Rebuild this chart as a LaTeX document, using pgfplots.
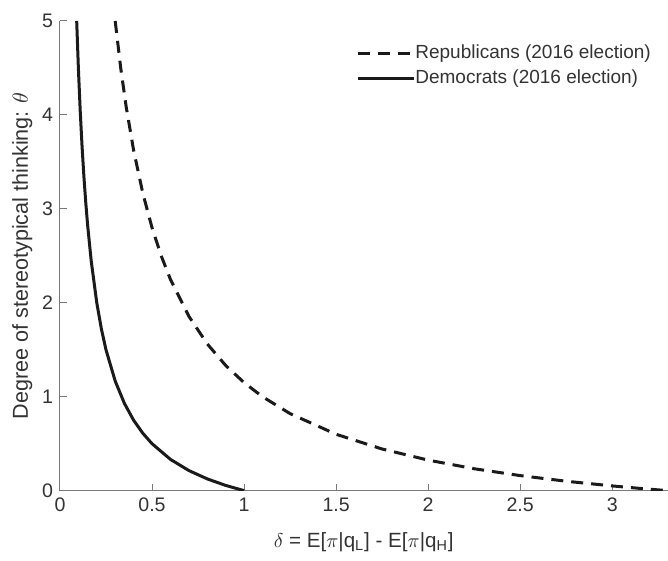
\documentclass[border=0pt]{standalone}
\usepackage{fontspec}
\setmainfont{Liberation Sans}
\usepackage{pgfplots}
\pgfplotsset{compat=1.18}
\definecolor{axgray}{HTML}{7A7A7A}
\definecolor{txt}{HTML}{333333}
\definecolor{crv}{HTML}{1A1A1A}
\begin{document}
\begin{tikzpicture}
\begin{axis}[
  name=ax,
  scale only axis,
  width=304pt, height=235pt,
  xmin=0, xmax=3.3, ymin=0, ymax=5,
  axis x line*=bottom, axis y line*=left,
  axis line style={-, axgray, line width=0.5pt},
  tick style={axgray, line width=0.5pt},
  tick align=inside,
  major tick length=3.5pt,
  xtick={0,0.5,1,1.5,2,2.5,3},
  ytick={0,1,2,3,4,5},
  /pgf/number format/assume math mode=true,
  ticklabel style={font=\fontsize{9.8}{12}\selectfont, text=txt},
  xlabel={$\delta$ = E[$\pi$|q\textsubscript{L}] - E[$\pi$|q\textsubscript{H}]},
  ylabel={Degree of stereotypical thinking: $\theta$},
  every axis x label/.style={at={(axis description cs:0.5,0)}, anchor=base, yshift=-28.6pt,
    font=\fontsize{10.3}{12}\selectfont, text=txt},
  every axis y label/.style={at={(axis description cs:-0.0526,0.5)}, anchor=base, rotate=90,
    font=\fontsize{10.8}{12}\selectfont, text=txt},
  legend style={draw=none, fill=none, inner sep=0pt, outer sep=0pt,
    at={(axis description cs:0.488,0.905)}, anchor=west,
    font=\fontsize{9.5}{11}\selectfont, text=txt,
    nodes={inner sep=0pt, text height=7pt, text depth=2pt},
    row sep=3.5pt},
  legend cell align=left,
  legend image code/.code={\draw[#1] (0pt,0pt) -- (28pt,0pt);},
  every axis legend/.append style={/tikz/every even column/.append style={column sep=2.5pt}},
]
\addplot[crv, line width=1.5pt, dash pattern=on 6pt off 4pt] coordinates {
(0.3,5.0) (0.33,4.5) (0.36,4.083) (0.4,3.625) (0.45,3.167) (0.5,2.8) (0.55,2.5)
(0.6,2.25) (0.7,1.857) (0.8,1.5625) (0.9,1.333) (1.0,1.15) (1.1,1.0) (1.25,0.82)
(1.5,0.6) (1.75,0.443) (2.0,0.325) (2.25,0.233) (2.5,0.16) (2.75,0.1) (3.0,0.05)
(3.15,0.024) (3.3,0.0)
};
\addlegendentry{Republicans (2016 election)}
\addplot[crv, line width=1.5pt] coordinates {
(0.0909,5.0) (0.1,4.5) (0.11,4.045) (0.12,3.667) (0.13,3.346) (0.14,3.071)
(0.15,2.833) (0.17,2.441) (0.2,2.0) (0.225,1.722) (0.25,1.5) (0.3,1.167)
(0.35,0.929) (0.4,0.75) (0.45,0.611) (0.5,0.5) (0.6,0.333) (0.7,0.214)
(0.8,0.125) (0.9,0.0556) (1.0,0.0)
};
\addlegendentry{Democrats (2016 election)}
\end{axis}
\path (ax.north west) ++(0,10.5pt);
\path (ax.south west) ++(-30pt,-35pt);
\end{tikzpicture}
\end{document}
